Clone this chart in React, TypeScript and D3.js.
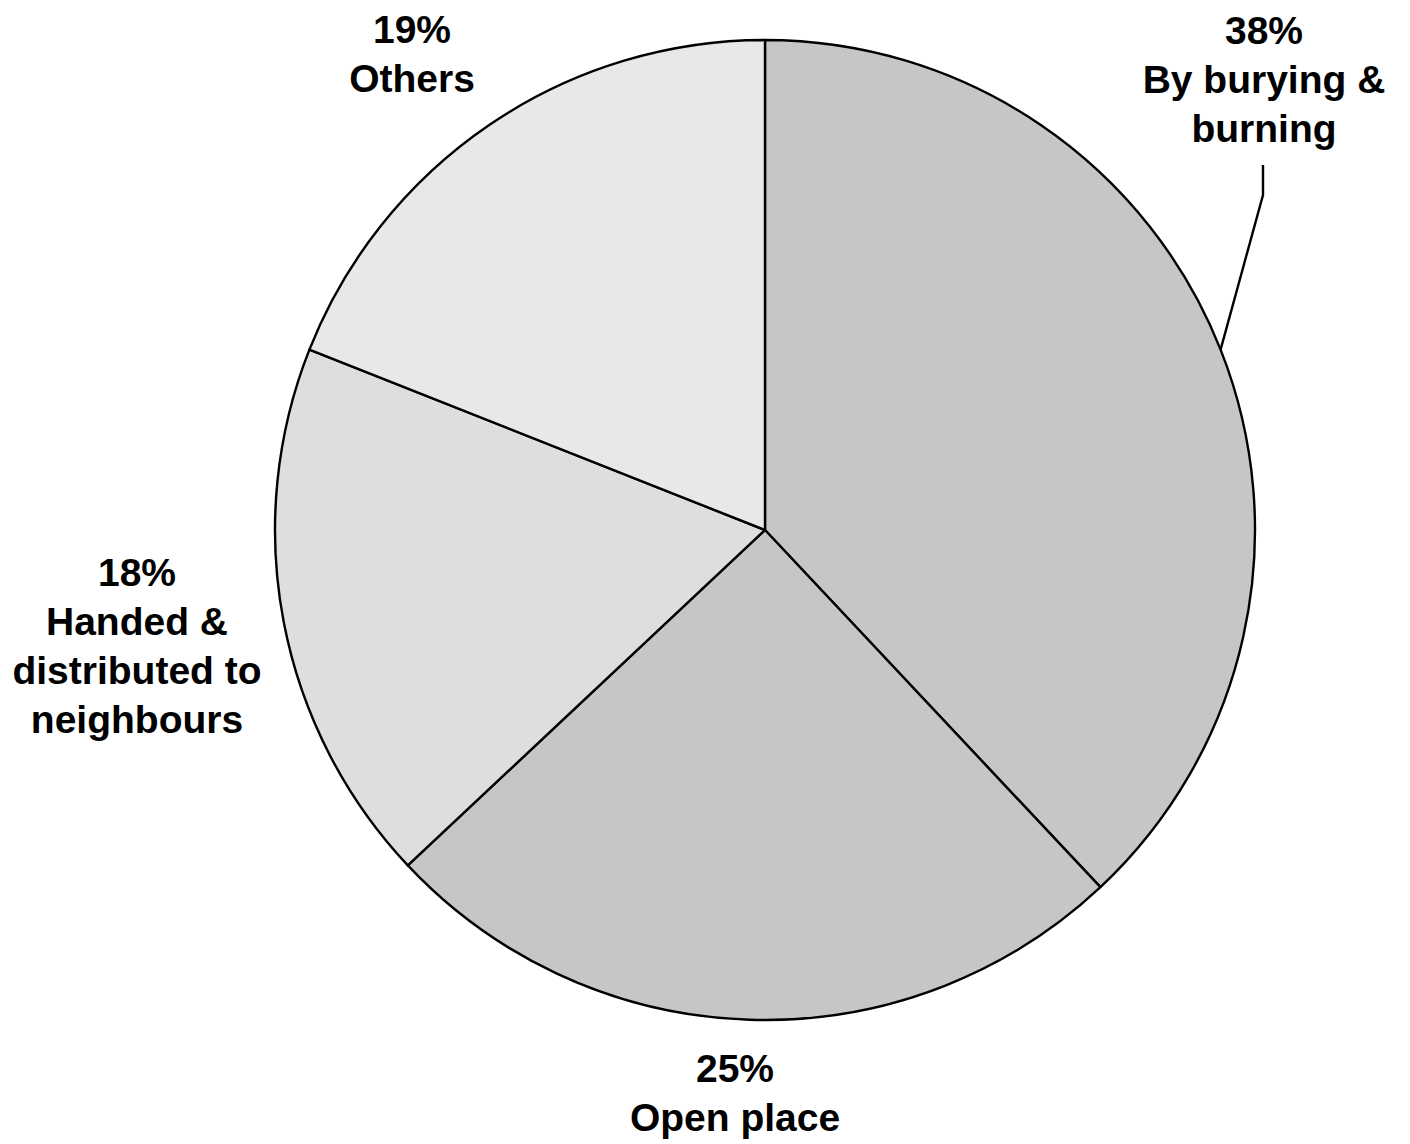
import React from "react";
import * as d3 from "d3";

const categories = ["By burying & burning", "Open place", "Handed & distributed to neighbours", "Others"];
const values = [38, 25, 18, 19];
const labelLines = [
  ["38%", "By burying &", "burning"],
  ["25%", "Open place"],
  ["18%", "Handed &", "distributed to", "neighbours"],
  ["19%", "Others"],
];
const fills = ["#c6c6c6", "#c6c6c6", "#dedede", "#e8e8e8"];

const W = 1410;
const H = 1144;
const cx = 765;
const cy = 530;
const R = 490;
const fontSize = 39;
const lineH = 49;
// label anchor: x center, baseline of first line
const labelPos = [
  { x: 1264, y: 44 },
  { x: 735, y: 1082 },
  { x: 137, y: 586 },
  { x: 412, y: 43 },
];

export default function App() {
  const pie = d3.pie<number>().sort(null).value((d) => d);
  const arcs = pie(values);
  const arc = d3.arc<d3.PieArcDatum<number>>().innerRadius(0).outerRadius(R);

  const a0 = arcs[0];
  const mid = (a0.startAngle + a0.endAngle) / 2;
  const ex = cx + R * Math.sin(mid);
  const ey = cy - R * Math.cos(mid);
  const leader = d3.line()([
    [ex, ey],
    [1263, 195],
    [1263, 165],
  ]);

  return (
    <svg width={W} height={H} style={{ position: "absolute", left: 0, top: 0 }}>
      <rect width={W} height={H} fill="#ffffff" />
      <g transform={`translate(${cx},${cy})`}>
        {arcs.map((a, i) => (
          <path key={categories[i]} d={arc(a) || ""} fill={fills[i]} stroke="#000" strokeWidth={2.4} strokeLinejoin="round" />
        ))}
      </g>
      <path d={leader || ""} fill="none" stroke="#000" strokeWidth={2.4} />
      {labelLines.map((lines, i) => (
        <text
          key={i}
          x={labelPos[i].x}
          y={labelPos[i].y}
          textAnchor="middle"
          fontFamily="'Liberation Sans', Arial, sans-serif"
          fontWeight="bold"
          fontSize={fontSize}
          fill="#000"
        >
          {lines.map((l, j) => (
            <tspan key={j} x={labelPos[i].x} dy={j === 0 ? 0 : lineH}>
              {l}
            </tspan>
          ))}
        </text>
      ))}
    </svg>
  );
}
